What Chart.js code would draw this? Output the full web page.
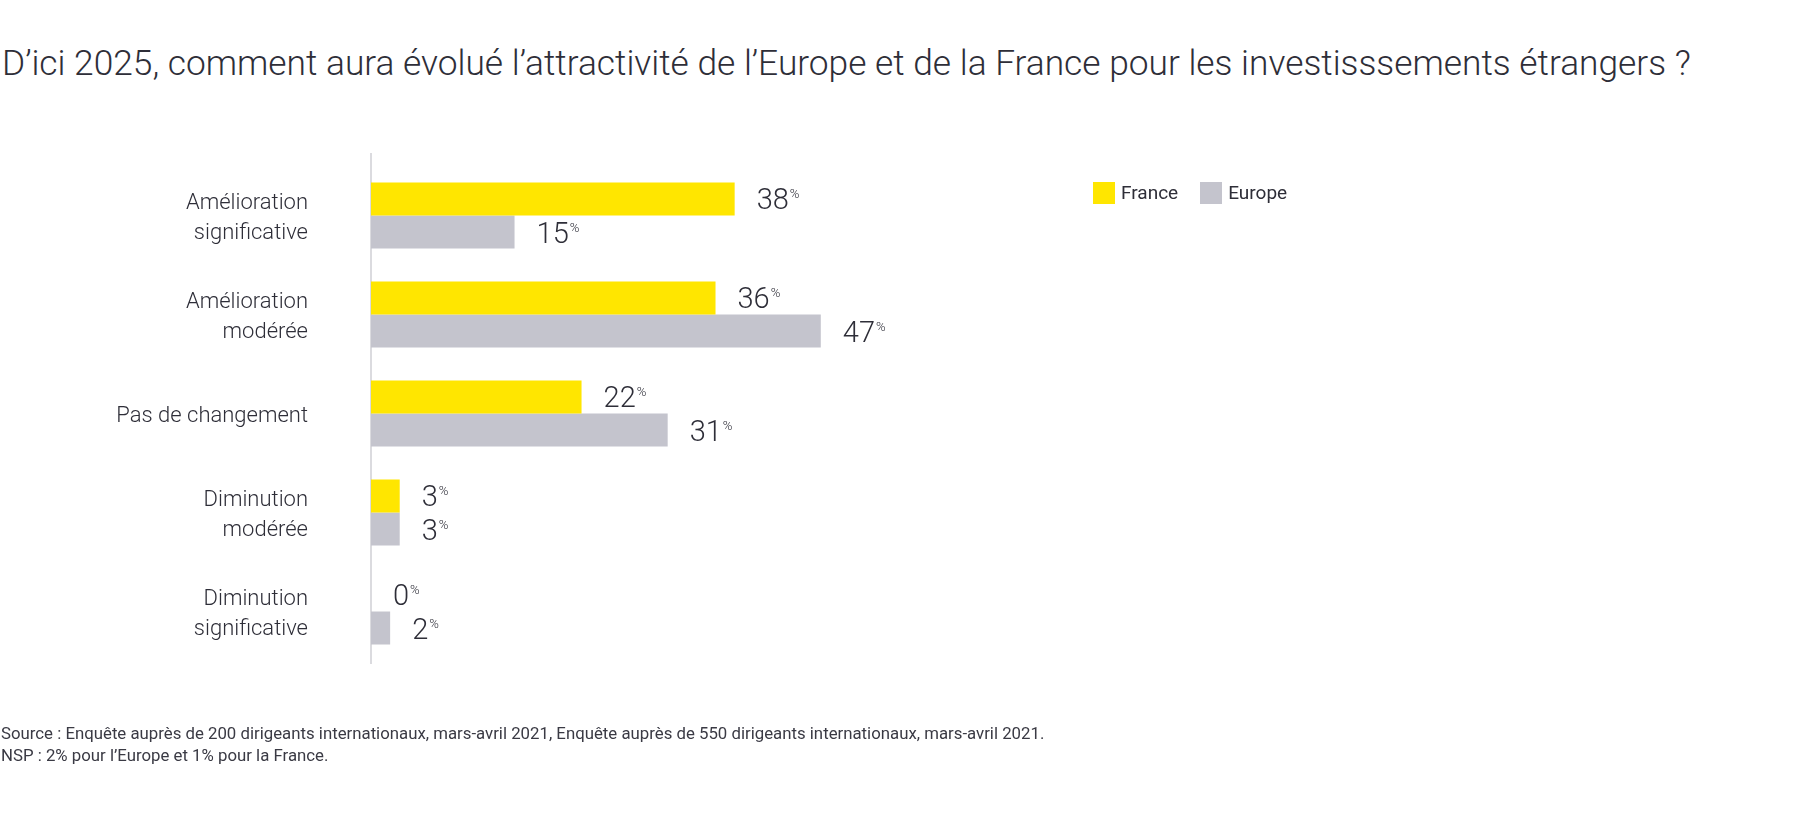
<!DOCTYPE html>
<html lang="fr">
<head>
<meta charset="utf-8">
<script src="https://cdn.jsdelivr.net/npm/chart.js@4/dist/chart.umd.min.js"></script>
<style>
  html, body { margin: 0; padding: 0; background: #fff; }
  body { width: 1800px; height: 814px; position: relative; overflow: hidden; font-family: Roboto, "Open Sans", sans-serif; color: #2e2e38; }
  #titre { position: absolute; left: 2px; top: 46px; font-size: 35.3px; font-weight: 300; line-height: 1; white-space: nowrap; }
  #source { position: absolute; left: 1px; top: 722px; font-size: 16.8px; font-weight: 400; line-height: 22px; color: #3a3a44; white-space: nowrap; }
  #legende { position: absolute; left: 1093px; top: 182px; font-size: 19px; display: flex; align-items: center; }
  #legende span.car { display: inline-block; width: 22px; height: 22px; margin-right: 6px; }
  #legende span.txt { margin-right: 22px; line-height: 22px; }
  #zone { position: absolute; left: 0; top: 0; width: 1800px; height: 814px; }
</style>
</head>
<body>
<div id="titre">D’ici 2025, comment aura évolué l’attractivité de l’Europe et de la France pour les investisssements étrangers ?</div>
<div id="zone"><canvas id="graphique"></canvas></div>
<div id="legende"></div>
<div id="source">Source : Enquête auprès de 200 dirigeants internationaux, mars-avril 2021, Enquête auprès de 550 dirigeants internationaux, mars-avril 2021.<br>NSP : 2% pour l’Europe et 1% pour la France.</div>
<script>
// Données (en %)
var categories = [
  ['Amélioration', 'significative'],
  ['Amélioration', 'modérée'],
  'Pas de changement',
  ['Diminution', 'modérée'],
  ['Diminution', 'significative']
];
var valeursFrance = [38, 36, 22, 3, 0];
var valeursEurope = [15, 47, 31, 3, 2];
var nomsSeries = ['France', 'Europe'];
var couleurs = ['#ffe600', '#c4c4cd'];

// Légende en HTML
var legende = document.getElementById('legende');
nomsSeries.forEach(function(nom, i) {
  legende.innerHTML += '<span class="car" style="background:' + couleurs[i] + '"></span><span class="txt">' + nom + '</span>';
});

// Ligne verticale de l'axe, un peu plus haute que la zone du graphique
var ligneAxe = {
  id: 'ligneAxe',
  beforeDatasetsDraw: function(chart) {
    var ctx = chart.ctx;
    var x = chart.scales.x.getPixelForValue(0);
    ctx.save();
    ctx.strokeStyle = '#cfcfd4';
    ctx.lineWidth = 1.5;
    ctx.beginPath();
    ctx.moveTo(x, 153);
    ctx.lineTo(x, 664);
    ctx.stroke();
    ctx.restore();
  }
};

// Etiquettes de valeur : nombre + petit % en exposant
var etiquettes = {
  id: 'etiquettes',
  afterDatasetsDraw: function(chart) {
    var ctx = chart.ctx;
    ctx.save();
    ctx.fillStyle = '#2e2e38';
    chart.data.datasets.forEach(function(ds, i) {
      var meta = chart.getDatasetMeta(i);
      meta.data.forEach(function(barre, j) {
        var texte = String(ds.data[j]);
        var x = barre.x + 22;
        var y = barre.y;
        ctx.font = '300 29px Roboto';
        ctx.textAlign = 'left';
        ctx.textBaseline = 'alphabetic';
        ctx.fillText(texte, x, y + 10.5);
        var w = ctx.measureText(texte).width;
        ctx.font = '300 13px Roboto';
        ctx.fillText('%', x + w + 1, y - 0.5);
      });
    });
    ctx.restore();
  }
};

new Chart(document.getElementById('graphique'), {
  type: 'bar',
  data: {
    labels: categories,
    datasets: [
      { label: nomsSeries[0], data: valeursFrance, backgroundColor: couleurs[0], barPercentage: 1, categoryPercentage: 0.667 },
      { label: nomsSeries[1], data: valeursEurope, backgroundColor: couleurs[1], barPercentage: 1, categoryPercentage: 0.667 }
    ]
  },
  options: {
    indexAxis: 'y',
    responsive: true,
    maintainAspectRatio: false,
    animation: false,
    layout: { padding: { left: 0, right: 472, top: 166, bottom: 153 } },
    plugins: {
      legend: { display: false },
      tooltip: { enabled: false }
    },
    scales: {
      x: { display: false, min: 0, max: 100 },
      y: {
        afterFit: function(scale) { scale.width = 371; },
        grid: { display: false },
        border: { display: false },
        ticks: {
          padding: 55,
          labelOffset: 3,
          color: '#2e2e38',
          font: { family: 'Roboto', size: 22, weight: 300, lineHeight: 1.38 }
        }
      }
    }
  },
  plugins: [ligneAxe, etiquettes]
});
</script>
</body>
</html>
